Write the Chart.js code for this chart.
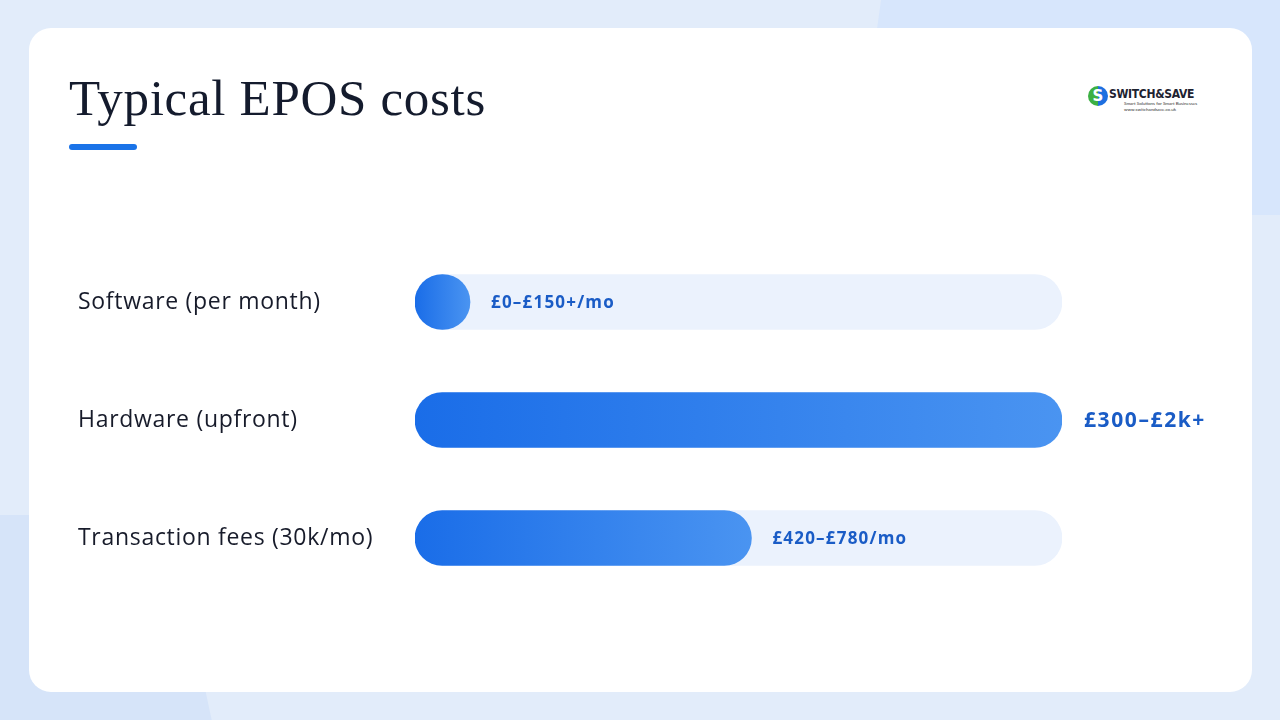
<!DOCTYPE html>
<html>
<head>
<meta charset="utf-8">
<script src="https://cdn.jsdelivr.net/npm/chart.js@4.4.1/dist/chart.umd.min.js"></script>
<style>
  html, body { margin: 0; padding: 0; }
  body { width: 1280px; height: 720px; position: relative; overflow: hidden; background: #e2ecfa; font-family: "Open Sans", sans-serif; }
  .blob { position: absolute; }
  .card { position: absolute; left: 29px; top: 28px; width: 1223px; height: 664px; background: #fff; border-radius: 22px; }
  h1 { position: absolute; left: 69px; top: 69px; margin: 0; font-family: "Liberation Serif", serif; font-weight: 400; font-size: 51px; color: #141b2d; letter-spacing: 0.7px; }
  .rule { position: absolute; left: 69px; top: 144px; width: 68px; height: 6px; border-radius: 3px; background: #1a73e8; }
  .logo { position: absolute; left: 1088px; top: 86px; }
  .logo .mark { position: absolute; left: 0; top: 0; width: 20px; height: 20px; border-radius: 50%; background: conic-gradient(#1d6fe0 0 50%, #3cb043 50% 100%); color: #fff; font: 700 15px/20px "DejaVu Sans", sans-serif; text-align: center; }
  .logo .name { position: absolute; left: 21px; top: 1px; font: 700 12px/14px "DejaVu Sans Condensed", sans-serif; color: #1d2230; white-space: nowrap; letter-spacing: -0.3px; }
  .logo .tag { position: absolute; left: 36px; top: 15px; font: 400 4.5px/5.5px Lato, sans-serif; color: #333; white-space: nowrap; }
  canvas { position: absolute; left: 0; top: 0; }
</style>
</head>
<body>
<div class="blob" style="left:880px;top:-200px;width:700px;height:415px;background:#d7e6fc;transform:skewX(-8deg);border-radius:60px;"></div>
<div class="blob" style="left:-100px;top:515px;width:300px;height:300px;background:#d6e4f9;transform:skewX(12deg);border-radius:30px;"></div>
<div class="card"></div>
<h1>Typical EPOS costs</h1>
<div class="rule"></div>
<div class="logo">
  <div class="mark">S</div>
  <div class="name">SWITCH&amp;SAVE</div>
  <div class="tag">Smart Solutions for Smart Businesses<br>www.switchandsave.co.uk</div>
</div>
<canvas id="chart" width="1280" height="720"></canvas>
<script>
const categories = ["Software (per month)", "Hardware (upfront)", "Transaction fees (30k/mo)"];
const barValues = [8.5, 100, 52];     // share of the track filled
const trackValues = [100, 100, 100];
const rangeLabels = ["£0–£150+/mo", "£300–£2k+", "£420–£780/mo"];

function barGradient(ctx) {
  const chart = ctx.chart;
  if (!chart.chartArea) return "#2a7de9";
  const x = chart.scales.x;
  const x0 = x.getPixelForValue(0);
  const x1 = x.getPixelForValue(ctx.raw);
  const g = chart.ctx.createLinearGradient(x0, 0, x1, 0);
  g.addColorStop(0, "#1a6de8");
  g.addColorStop(1, "#4a94f1");
  return g;
}

// wider tracking for the row labels, like the original font
const spacing = {
  id: "spacing",
  beforeDraw(chart) { chart.ctx.letterSpacing = "0.7px"; }
};

const valueLabels = {
  id: "valueLabels",
  afterDatasetsDraw(chart) {
    const c = chart.ctx;
    const meta = chart.getDatasetMeta(0);
    const trackEnd = chart.scales.x.getPixelForValue(100);
    c.save();
    c.fillStyle = "#1a5cc6";
    c.textBaseline = "middle";
    c.textAlign = "left";
    meta.data.forEach((bar, i) => {
      if (barValues[i] >= 100) {
        c.font = "700 21px 'Open Sans', sans-serif";
        c.letterSpacing = "1.6px";
        c.fillText(rangeLabels[i], trackEnd + 22, bar.y + 1);
      } else {
        c.font = "700 17px 'Open Sans', sans-serif";
        c.letterSpacing = "1.2px";
        c.fillText(rangeLabels[i], bar.x + 21, bar.y + 1);
      }
    });
    c.restore();
  }
};

new Chart(document.getElementById("chart"), {
  type: "bar",
  data: {
    labels: categories,
    datasets: [
      {
        data: barValues,
        backgroundColor: barGradient,
        borderRadius: 28,
        borderSkipped: false,
        barThickness: 55
      },
      {
        data: trackValues,
        backgroundColor: "#ebf2fd",
        borderRadius: 28,
        borderSkipped: false,
        barThickness: 55
      }
    ]
  },
  options: {
    indexAxis: "y",
    responsive: false,
    animation: false,
    layout: { padding: { left: 78, right: 218, top: 243, bottom: 123 } },
    datasets: { bar: { grouped: false } },
    plugins: { legend: { display: false }, tooltip: { enabled: false } },
    scales: {
      x: { min: 0, max: 100, display: false },
      y: {
        grid: { display: false },
        border: { display: false },
        ticks: {
          crossAlign: "far",
          color: "#171b2a",
          font: { family: "'Open Sans'", size: 23 }
        },
        afterFit(scale) { scale.width = 337; }
      }
    }
  },
  plugins: [spacing, valueLabels]
});
</script>
</body>
</html>
